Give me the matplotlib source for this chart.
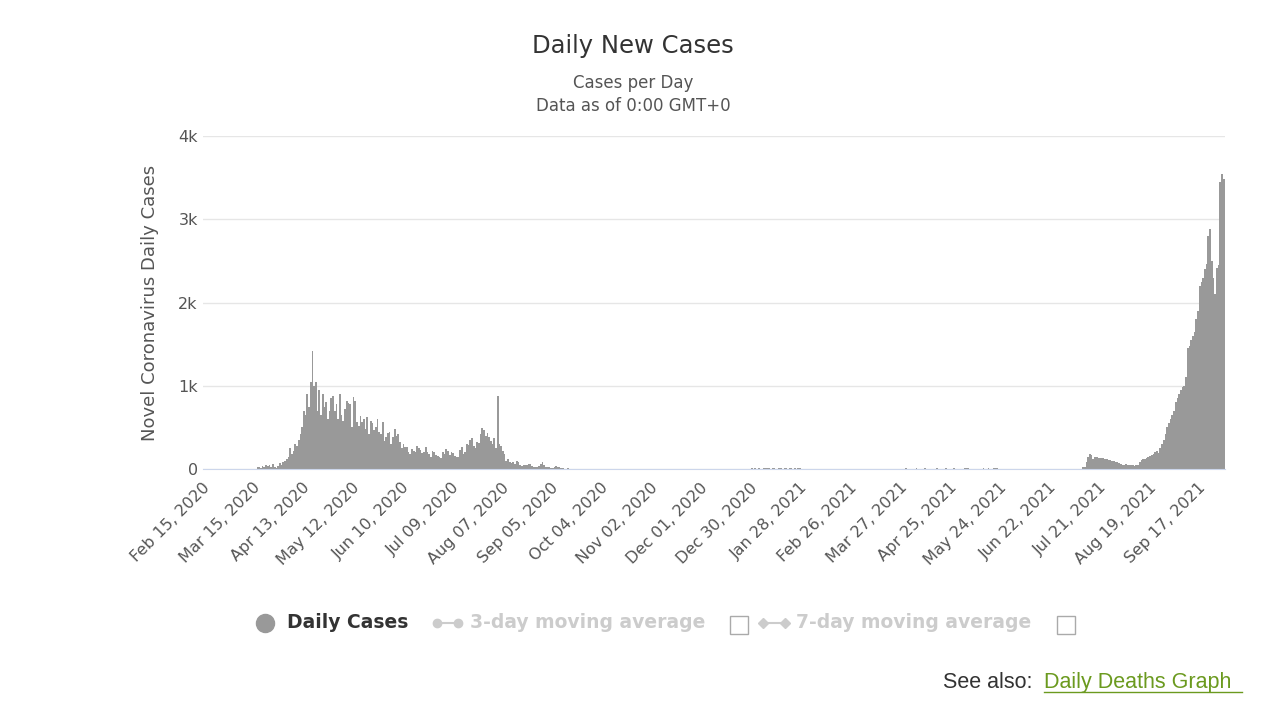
import datetime as dt
import matplotlib
matplotlib.use("Agg")
import matplotlib.pyplot as plt
from matplotlib.lines import Line2D

start_date = dt.date(2020, 2, 15)

# daily cases, by segment
seg_pre = [0] * 32
seg_mar = [20, 25, 15, 40, 30, 50, 35, 45, 30, 60, 20, 15, 40, 70, 50, 90]
seg_apr = [100, 120, 150, 250, 180, 220, 300, 280, 350, 420, 500, 700, 650, 900, 750, 1050, 1420]
seg_may = [1000, 1050, 700, 950, 650, 900, 750, 800, 600, 700, 850, 880, 700, 780, 600, 900,
           650, 580, 720, 820, 790, 780, 500, 860, 820, 560]
seg_jun = [520, 640, 560, 600, 480, 630, 420, 580, 550, 470, 510, 600, 450, 420, 560, 340,
           380, 430, 450, 300, 390, 480, 400, 420, 330, 250, 300, 260, 270, 200]
seg_jul = [180, 240, 220, 200, 280, 250, 230, 190, 210, 260, 200, 180, 150, 220, 200, 170,
           160, 150, 130, 200, 180, 240, 220, 170, 210, 190, 160, 150, 140, 230, 260, 180,
           210, 300, 290, 350, 370, 280, 250, 330]
seg_aug = [310, 420, 490, 470, 400, 430, 380, 340, 300, 370, 250, 880,
           300, 280, 220, 180, 100, 120, 80, 70, 90, 60, 100, 80, 50]
seg_sep = [40, 50, 50, 50, 60, 60, 40, 30, 20, 30, 40, 60, 80, 50, 30, 20, 25, 15, 10, 30,
           40, 30, 20, 10, 15, 5, 0, 10, 0, 0]
seg_quiet1 = [0] * 104
seg_winter = [8, 0, 10, 5, 12, 6, 0, 9, 14, 7, 10, 5, 8, 12, 0, 6, 10, 9, 5, 11, 7, 0, 8, 12, 6, 10, 4, 9, 13, 0, 5]
seg_quiet2 = [0] * 57
seg_spring = [5, 0, 8, 0, 3, 6, 0, 0, 7, 0, 5, 0, 0, 8, 4, 0, 6, 0, 0, 5, 9, 0, 0, 6, 0, 7, 0, 4,
              0, 0, 8, 6, 0, 5, 0, 0, 9, 7, 8, 6, 0, 5, 0, 4, 0, 0, 0, 8, 0, 6, 7, 5, 6, 8, 9, 7,
              6, 0, 5, 4, 6, 0, 5, 0, 4]
seg_quiet3 = [0] * 40
seg_jul21 = [20, 30, 80, 150, 180, 170, 120, 150, 140, 130, 130, 135, 130, 120, 115, 110, 105,
             100, 95, 90, 80, 70, 60, 50, 45, 55, 50, 48, 50, 45, 40, 45, 50]
seg_sep21 = [90, 110, 120, 115, 130, 140, 160, 170, 180, 200, 220, 190, 250, 300, 350, 420,
             500, 550, 600, 650, 700, 800, 850, 900, 950, 980, 1000, 1100, 1450, 1480, 1550,
             1600, 1650, 1800, 1900, 2200, 2250, 2300, 2400, 2460, 2800, 2880, 2500, 2300,
             2100, 2420, 2450, 3450, 3550, 3480, 3500]

cases = (seg_pre + seg_mar + seg_apr + seg_may + seg_jun + seg_jul + seg_aug + seg_sep +
         seg_quiet1 + seg_winter + seg_quiet2 + seg_spring + seg_quiet3 + seg_jul21 + seg_sep21)
dates = [start_date + dt.timedelta(days=i) for i in range(len(cases))]

fig = plt.figure(figsize=(12.66, 7.09), dpi=100)
ax = fig.add_axes([0.160, 0.3385, 0.808, 0.4695])
ax.bar(dates, cases, width=1.0, color="#999999", linewidth=0)

ax.set_ylim(0, 4000)
ax.set_yticks([0, 1000, 2000, 3000, 4000])
ax.set_yticklabels(["0", "1k", "2k", "3k", "4k"])
ax.yaxis.grid(True, color="#e6e6e6", linewidth=1)
ax.set_axisbelow(True)
ax.set_xlim(start_date - dt.timedelta(days=0.5), dates[-1] + dt.timedelta(days=0.5))
ticks = [start_date + dt.timedelta(days=29 * k) for k in range(21)]
ax.set_xticks(ticks)
ax.set_xticklabels([t.strftime("%b %d, %Y") for t in ticks], rotation=45, ha="right",
                   rotation_mode="anchor")
for s in ["top", "right", "left"]:
    ax.spines[s].set_visible(False)
ax.spines["bottom"].set_color("#ccd6eb")
ax.tick_params(axis="both", colors="#666666", labelsize=11.5, length=0)
ax.tick_params(axis="x", pad=8)
for lbl in ax.get_xticklabels() + ax.get_yticklabels():
    lbl.set_color("#555555")
ax.set_ylabel("Novel Coronavirus Daily Cases", fontsize=13, color="#555555", labelpad=14)

fig.text(0.5, 0.925, "Daily New Cases", ha="center", fontsize=17.5, color="#333333")
fig.text(0.5, 0.876, "Cases per Day", ha="center", fontsize=12, color="#555555")
fig.text(0.5, 0.844, "Data as of 0:00 GMT+0", ha="center", fontsize=12, color="#555555")

# legend
fig.lines.append(Line2D([0.209], [0.122], marker="o", markersize=13, color="#999999",
                        transform=fig.transFigure))
fig.text(0.227, 0.122, "Daily Cases", va="center", fontsize=13.5, fontweight="bold", color="#333333")
fig.lines.append(Line2D([0.345, 0.362], [0.122, 0.122], marker="o", markersize=6,
                        color="#cccccc", transform=fig.transFigure))
fig.text(0.371, 0.122, "3-day moving average", va="center", fontsize=13.5, fontweight="bold", color="#cccccc")
fig.patches.append(plt.Rectangle((0.577, 0.106), 0.014, 0.025, fill=False, edgecolor="#aaaaaa",
                                 transform=fig.transFigure))
fig.lines.append(Line2D([0.603, 0.620], [0.122, 0.122], marker="D", markersize=5,
                        color="#cccccc", transform=fig.transFigure))
fig.text(0.629, 0.122, "7-day moving average", va="center", fontsize=13.5, fontweight="bold", color="#cccccc")
fig.patches.append(plt.Rectangle((0.835, 0.106), 0.014, 0.025, fill=False, edgecolor="#aaaaaa",
                                 transform=fig.transFigure))

fig.text(0.745, 0.029, "See also:", fontsize=15.5, color="#333333", family="Liberation Sans")
fig.text(0.825, 0.029, "Daily Deaths Graph", fontsize=15.5, color="#6b9a1f", family="Liberation Sans")
fig.lines.append(Line2D([0.825, 0.981], [0.024, 0.024], color="#6b9a1f", linewidth=1,
                        transform=fig.transFigure))

fig.savefig("out.png", dpi=100)
